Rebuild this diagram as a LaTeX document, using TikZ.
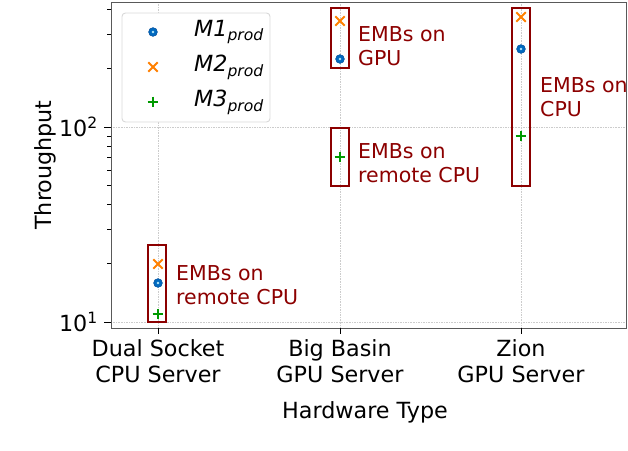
\documentclass[tikz,border=0pt]{standalone}
\usepackage{fontspec}
\setmainfont{DejaVu Sans}
\usetikzlibrary{shapes.misc}
\begin{document}
\begin{tikzpicture}[x=0.03cm,y=-0.03cm,
  grid/.style={gray!40, densely dotted, line width=0.4pt},
  emb/.style={draw=red!55!black, line width=1.2pt},
  note/.style={text=red!55!black, font=\fontsize{17.5}{21}\selectfont, align=left, anchor=west, inner sep=0},
  tick/.style={font=\fontsize{19}{22}\selectfont},
  mone/.style={circle, fill=blue!45!cyan!75!black, draw=blue!50!cyan!60!black, minimum size=7.5pt, inner sep=0, path picture={\fill[cyan!30] (path picture bounding box.center) circle (1.2pt);}},
  mtwo/.style={cross out, draw=orange, line width=1.6pt, minimum size=6.5pt, inner sep=0},
  mthree/.style={minimum size=9pt, inner sep=0,
    path picture={\draw[green!60!black, line width=1.6pt] (path picture bounding box.north) -- (path picture bounding box.south) (path picture bounding box.west) -- (path picture bounding box.east);}}]
\useasboundingbox (0,0) rectangle (628,450);
% grid
\foreach \x in {158,340,521} \draw[grid] (\x,2) -- (\x,328);
\draw[grid] (111,127) -- (626,127);
\draw[grid] (111,322) -- (626,322);
% axes
\draw[gray!70!black, line width=0.8pt] (111,2) rectangle (626,328);
\foreach \x in {158,340,521} \draw[line width=0.8pt] (\x,328) -- (\x,334);
\draw[line width=0.8pt] (111,127) -- (104,127) (111,322) -- (104,322);
\foreach \k in {2,...,9} {
  \draw[line width=0.6pt] (111,{322-195*log10(\k)}) -- (107,{322-195*log10(\k)});
}
\foreach \k in {2,3,4} {
  \draw[line width=0.6pt] (111,{127-195*log10(\k)}) -- (107,{127-195*log10(\k)});
}
\node[tick, anchor=east] (t2) at (102,127) {10\textsuperscript{2}};
\node[tick, anchor=east] (t1) at (102,322) {10\textsuperscript{1}};
\node[tick, rotate=90] (yl) at (45,165) {Throughput};
\node[tick, align=center] (c1) at (158,361) {Dual Socket\\CPU Server};
\node[tick, align=center] (c2) at (340,361) {Big Basin\\GPU Server};
\node[tick, align=center] (c3) at (521,361) {Zion\\GPU Server};
\node[tick] (xl) at (365,412) {Hardware Type};
% boxes
\draw[emb] (148,245) rectangle (166,322);
\draw[emb] (331,8) rectangle (349,68);
\draw[emb] (331,128) rectangle (349,186);
\draw[emb] (512,8) rectangle (530,186);
% data
\node[mtwo] (a2) at (158,264) {};
\node[mone] (a1) at (158,283) {};
\node[mthree] (a3) at (158,314) {};
\node[mtwo] (b2) at (340,21) {};
\node[mone] (b1) at (340,59) {};
\node[mthree] (b3) at (340,157) {};
\node[mtwo] (z2) at (521,17) {};
\node[mone] (z1) at (521,49) {};
\node[mthree] (z3) at (521,136) {};
% notes
\node[note] (n1) at (176,285) {EMBs on\\remote CPU};
\node[note] (n2) at (358,46) {EMBs on\\GPU};
\node[note] (n3) at (358,163) {EMBs on\\remote CPU};
\node[note] (n4) at (540,97) {EMBs on\\CPU};
% legend
\draw[gray!30, fill=white, rounded corners=3pt, line width=0.8pt] (122,13) rectangle (270,122);
\node[mone] (l1) at (153,32) {};
\node[mtwo] (l2) at (153,67) {};
\node[mthree] (l3) at (153,102) {};
\node[tick, anchor=west] (lt1) at (190,32) {\textit{M1}\textsubscript{\textit{prod}}};
\node[tick, anchor=west] (lt2) at (190,67) {\textit{M2}\textsubscript{\textit{prod}}};
\node[tick, anchor=west] (lt3) at (190,102) {\textit{M3}\textsubscript{\textit{prod}}};
\end{tikzpicture}
\end{document}
